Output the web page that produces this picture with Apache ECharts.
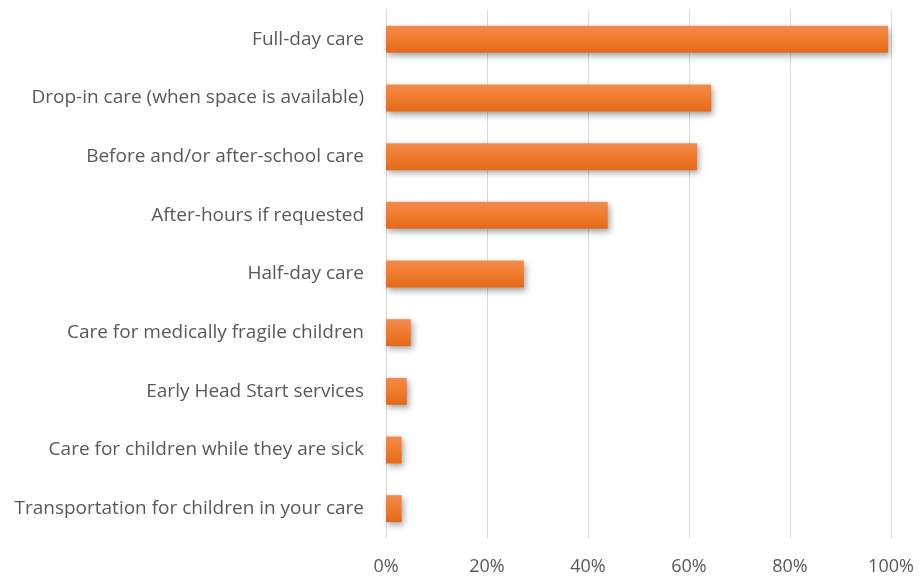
<!DOCTYPE html>
<html>
<head>
<meta charset="utf-8">
<script src="https://cdn.jsdelivr.net/npm/echarts@6/dist/echarts.min.js"></script>
<style>
  html, body { margin: 0; padding: 0; background: #fff; }
  #chart { width: 920px; height: 582px; }
</style>
</head>
<body>
<div id="chart"></div>
<script>
const categories = [
    'Full-day care',
    'Drop-in care (when space is available)',
    'Before and/or after-school care',
    'After-hours if requested',
    'Half-day care',
    'Care for medically fragile children',
    'Early Head Start services',
    'Care for children while they are sick',
    'Transportation for children in your care'
]
const shares = [99.4, 64.4, 61.6, 43.9, 27.3, 4.9, 4.1, 3.1, 3.1]
const tickLabels = ['0%', '20%', '40%', '60%', '80%', '100%']

const chart = echarts.init(document.getElementById('chart'), undefined, { renderer: 'canvas' })
chart.setOption({
    animation: false,
    grid: { left: 386, right: 29, top: 10, bottom: 44 },
    xAxis: {
        type: 'value',
        min: 0,
        max: 100,
        interval: 20,
        axisLine: { show: false },
        axisTick: { show: false },
        splitLine: { lineStyle: { color: '#d9d9d9', width: 1 } },
        axisLabel: {
            color: '#595959',
            fontSize: 18,
            fontFamily: 'Open Sans',
            margin: 20,
            formatter: v => tickLabels[v / 20]
        }
    },
    yAxis: {
        type: 'category',
        inverse: true,
        data: categories,
        axisLine: { show: false },
        axisTick: { show: false },
        axisLabel: {
            color: '#595959',
            fontSize: 19,
            fontFamily: 'Open Sans',
            margin: 22
        }
    },
    series: [{
        type: 'bar',
        data: shares,
        barWidth: 27,
        itemStyle: {
            color: new echarts.graphic.LinearGradient(0, 0, 0, 1, [
                { offset: 0, color: '#f28b4e' },
                { offset: 0.5, color: '#f07b2a' },
                { offset: 1, color: '#e2691a' }
            ]),
            shadowColor: 'rgba(0,0,0,0.35)',
            shadowBlur: 6,
            shadowOffsetX: 2,
            shadowOffsetY: 3
        }
    }]
})
</script>
</body>
</html>
